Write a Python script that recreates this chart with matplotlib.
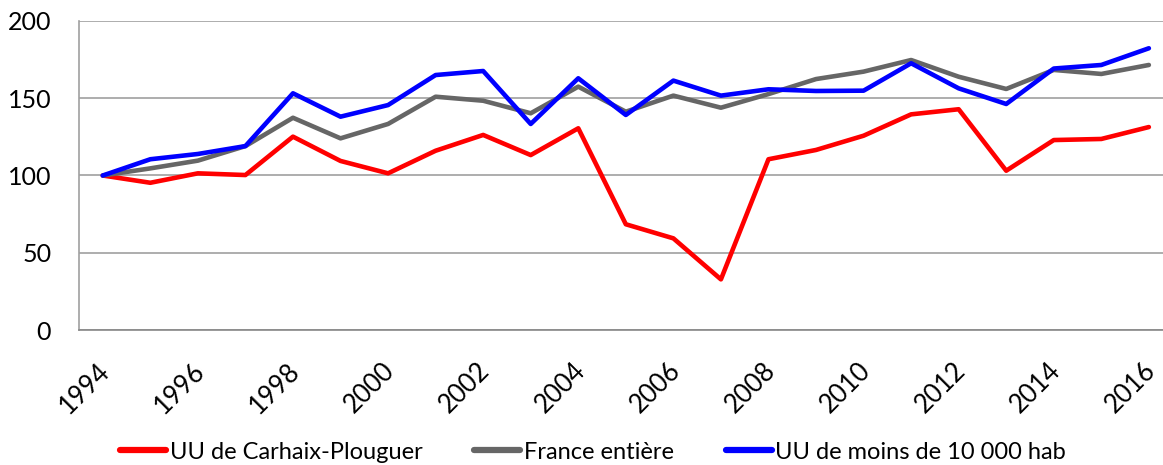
import matplotlib
matplotlib.use("Agg")
import matplotlib.pyplot as plt
import matplotlib.transforms as mtransforms
from matplotlib.lines import Line2D

plt.rcParams['font.family'] = ['Lato', 'DejaVu Sans']

years = list(range(1994, 2017))
carhaix = [100, 95.3, 101.4, 100.3, 125.1, 109.4, 101.4, 116.0, 126.2, 113.2, 130.5,
           68.5, 59.4, 32.9, 110.5, 116.5, 125.7, 139.5, 142.8, 103.1, 122.9, 123.6, 131.3]
france = [100, 104.6, 109.6, 119.0, 137.3, 124.0, 133.3, 150.9, 148.3, 140.2, 157.4,
          141.2, 151.6, 143.8, 152.6, 162.3, 167.1, 174.6, 163.8, 155.9, 168.2, 165.6, 171.4]
petites = [100, 110.5, 113.9, 119.0, 153.1, 138.0, 145.5, 164.9, 167.5, 133.3, 162.8,
           139.1, 161.3, 151.6, 155.7, 154.6, 154.8, 172.5, 156.3, 146.2, 169.1, 171.4, 182.2]
labels = ["UU de Carhaix-Plouguer", "France entière", "UU de moins de 10 000 hab"]
colors = ["#FF0000", "#666666", "#0000FF"]
yticks = [0, 50, 100, 150, 200]

W, H = 1163, 465
fig = plt.figure(figsize=(W / 100, H / 100), dpi=100)
left = 79 / W
bottom = 1 - 330.3 / H
top = 1 - 20.7 / H
width = (23 * 47.55) / W
ax = fig.add_axes([left, bottom, width, top - bottom])

x = list(range(len(years)))
for series, c in zip([carhaix, france, petites], colors):
    ax.plot(x, series, color=c, lw=3.3, solid_joinstyle='round', solid_capstyle='round',
            clip_on=False)

ax.set_xlim(-0.5, len(years) - 0.5)
ax.set_ylim(0, 200)
ax.set_yticks(yticks)
ax.set_yticklabels([str(v) for v in yticks], fontsize=18)
ax.yaxis.grid(True, color='#a0a0a0', lw=1.2)
ax.set_axisbelow(True)
ax.set_xticks(x[::2])
ax.set_xticklabels([str(y) for y in years[::2]], fontsize=18.5, rotation=45,
                   ha='right', va='top', rotation_mode='anchor')
ax.tick_params(axis='x', length=0, pad=20)
ax.tick_params(axis='y', length=0, pad=20)
offset = mtransforms.ScaledTranslation(-6 / 100, 0, fig.dpi_scale_trans)
for lab in ax.get_xticklabels():
    lab.set_transform(lab.get_transform() + offset)
for s in ['top', 'right']:
    ax.spines[s].set_visible(False)
ax.spines['left'].set_color('#a0a0a0')
ax.spines['bottom'].set_color('#888888')
ax.spines['left'].set_linewidth(1.2)
ax.spines['bottom'].set_linewidth(1.2)

handles = [Line2D([0], [0], color=c, lw=4.5, solid_capstyle='round') for c in colors]
fig.legend(handles, labels, loc='center', bbox_to_anchor=(0.51, 1 - 452 / H),
           ncol=3, frameon=False, fontsize=17, handlelength=1.95, handletextpad=0.15,
           columnspacing=2.2)

fig.savefig("out.png", dpi=100)
